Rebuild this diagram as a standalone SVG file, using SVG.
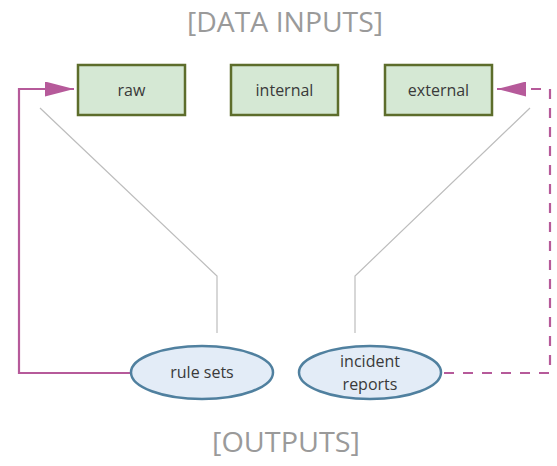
<svg xmlns="http://www.w3.org/2000/svg" width="557" height="466" viewBox="0 0 557 466">
  <defs>
    <marker id="arrow" viewBox="0 0 29 15" refX="29" refY="7.5" markerWidth="29" markerHeight="15" markerUnits="userSpaceOnUse" orient="auto">
      <path d="M0,0 L29,7.5 L0,15 Z" fill="#b65a9a"/>
    </marker>
    <style>
      .title { font-family: "Open Sans", "Liberation Sans", sans-serif; font-size: 27px; fill: #9a9a9a; text-anchor: middle; }
      .label { font-family: "Open Sans", "Liberation Sans", sans-serif; font-size: 16px; fill: #3a3a3a; text-anchor: middle; }
      .box { fill: #d5e8d4; stroke: #5d6d2b; stroke-width: 2.5; }
      .oval { fill: #e3ecf7; stroke: #50809f; stroke-width: 2.5; }
      .guide { fill: none; stroke: #bdbdbd; stroke-width: 1.2; }
      .flow { fill: none; stroke: #b65a9a; stroke-width: 2.2; }
      .flow.dashed { stroke-dasharray: 10 9; }
    </style>
  </defs>

  <text class="title" x="285" y="32" textLength="196" lengthAdjust="spacingAndGlyphs">[DATA INPUTS]</text>
  <text class="title" x="286" y="452" textLength="148" lengthAdjust="spacingAndGlyphs">[OUTPUTS]</text>

  <g id="connectors">
    <polyline class="guide" points="40,108 217,276 217,333"/>
    <polyline class="guide" points="530,108 355,276 355,333"/>
    <polyline class="flow" points="131,373 19,373 19,89 74,89" marker-end="url(#arrow)"/>
    <polyline class="flow dashed" points="444,373 550,373 550,89 497,89" marker-end="url(#arrow)"/>
  </g>

  <g id="raw">
    <rect class="box" x="78" y="65" width="107" height="50"/>
    <text class="label" x="131.5" y="95.5">raw</text>
  </g>
  <g id="internal">
    <rect class="box" x="231" y="65" width="107" height="50"/>
    <text class="label" x="284.5" y="95.5">internal</text>
  </g>
  <g id="external">
    <rect class="box" x="385" y="65" width="107" height="50"/>
    <text class="label" x="438.5" y="95.5">external</text>
  </g>

  <g id="rule-sets">
    <ellipse class="oval" cx="202" cy="372.5" rx="71" ry="26.5"/>
    <text class="label" x="202" y="378">rule sets</text>
  </g>
  <g id="incident-reports">
    <ellipse class="oval" cx="370" cy="372.5" rx="71" ry="26.5"/>
    <text class="label" x="370" y="367">incident</text>
    <text class="label" x="370" y="390">reports</text>
  </g>
</svg>
